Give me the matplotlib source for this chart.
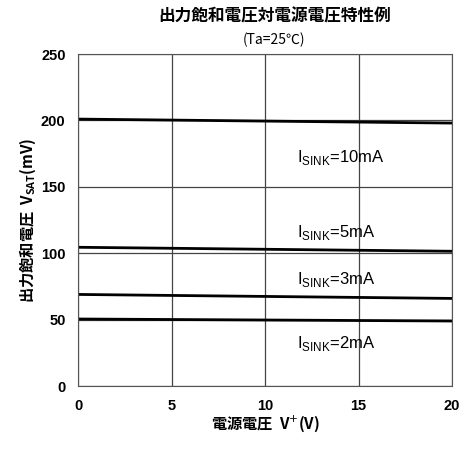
import matplotlib
matplotlib.use("Agg")
import matplotlib.pyplot as plt

plt.rcParams['font.family'] = ['Noto Sans CJK JP', 'DejaVu Sans']

# supply voltage (V) and saturation voltage (mV) per sink current
supply_v = [0, 20]
sat_10ma = [201, 198]
sat_5ma = [104.5, 101.5]
sat_3ma = [69, 66]
sat_2ma = [50.5, 49]

labels = ["10mA", "5mA", "3mA", "2mA"]
label_y = [172, 116, 80, 32]
series = [sat_10ma, sat_5ma, sat_3ma, sat_2ma]

fig = plt.figure(figsize=(4.65, 4.5), dpi=100)
ax = fig.add_axes([0.168, 0.142, 0.804, 0.738])

for vals in series:
    ax.plot(supply_v, vals, color="black", lw=2)

for lab, y in zip(labels, label_y):
    ax.text(11.7, y, r"I$_{\mathregular{SINK}}$=" + lab, fontsize=12, va="center",
            ha="left", family="Liberation Sans")

ax.set_xlim(0, 20)
ax.set_ylim(0, 250)
ax.set_xticks([0, 5, 10, 15, 20])
ax.set_yticks([0, 50, 100, 150, 200, 250])
ax.grid(True, color="#444444", lw=0.9)
ax.tick_params(length=0, labelsize=10.5, pad=9)
for t in ax.get_xticklabels() + ax.get_yticklabels():
    t.set_family("Liberation Sans")
    t.set_fontweight("bold")
for s in ax.spines.values():
    s.set_color("#555555")

ax.set_xlabel("電源電圧  V$^{+}$(V)", fontsize=11, fontweight="bold", labelpad=1)
ax.set_ylabel("出力飽和電圧  V$_{\\mathregular{SAT}}$(mV)", fontsize=11, fontweight="bold", labelpad=2)
fig.text(0.59, 0.952, "出力飽和電圧対電源電圧特性例", ha="center", fontsize=12, fontweight="bold")
fig.text(0.59, 0.902, "(Ta=25℃)", ha="center", fontsize=10)

fig.savefig("out.png", dpi=100)
